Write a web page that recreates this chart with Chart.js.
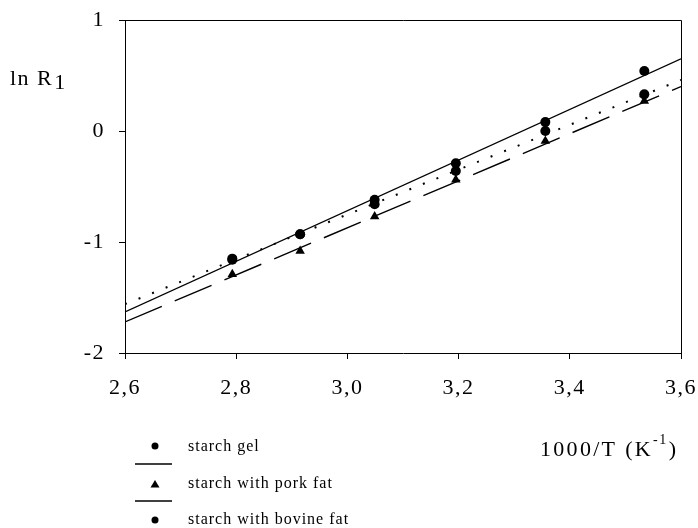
<!DOCTYPE html>
<html><head><meta charset="utf-8">
<script src="https://cdn.jsdelivr.net/npm/chart.js@4.4.0/dist/chart.umd.min.js"></script>
<style>html,body{margin:0;padding:0;background:#fff;} #wrap{width:698px;height:528px;position:relative;}</style>
</head><body><div id="wrap"><canvas id="c" width="698" height="528"></canvas></div>
<script>
const xValues = [2.793, 2.915, 3.049, 3.195, 3.356, 3.534];
const starchGel = [-1.16, -0.93, -0.62, -0.29, 0.08, 0.54];
const porkFat = [-1.29, -1.08, -0.77, -0.44, -0.09, 0.27];
const bovineFat = [-1.15, -0.93, -0.66, -0.36, 0.00, 0.33];
const fitX = [2.6, 3.6];
const gelFit = [-1.63, 0.65];
const porkFit = [-1.72, 0.40];
const bovineFit = [-1.56, 0.46];
const xTicks = [2.6, 2.8, 3.0, 3.2, 3.4, 3.6];
const xTickLabels = ['2,6', '2,8', '3,0', '3,2', '3,4', '3,6'];
const yTicks = [-2, -1, 0, 1];
const yTickLabels = ['-2', '-1', '0', '1'];
const legendLabels = ['starch gel', 'starch with pork fat', 'starch with bovine fat'];
const yTitle = 'ln R';
const yTitleSub = '1';
const xTitle = '1000/T (K';
const xTitleSup = '-1';

const FONT = '"Liberation Serif", "Times New Roman", serif';
const pts = (xs, ys) => xs.map((x, i) => ({x: x, y: ys[i]}));

const framePlugin = {
  id: 'frame',
  beforeDraw(chart) {
    chart.ctx.letterSpacing = '1.5px';
  },
  afterDraw(chart) {
    const ctx = chart.ctx, a = chart.chartArea;
    ctx.save();
    ctx.letterSpacing = '0px';
    ctx.strokeStyle = '#000';
    ctx.lineWidth = 1;
    ctx.beginPath();
    ctx.moveTo(a.left, a.top + 0.5);
    ctx.lineTo(a.right + 0.5, a.top + 0.5);
    ctx.lineTo(a.right + 0.5, a.bottom);
    ctx.stroke();

    // axis titles
    ctx.fillStyle = '#000';
    ctx.textBaseline = 'alphabetic';
    ctx.textAlign = 'left';
    ctx.font = '22px ' + FONT;
    ctx.letterSpacing = '1.5px';
    ctx.fillText(yTitle, 10, 85);
    let w = ctx.measureText(yTitle).width;
    ctx.fillText(yTitleSub, 10 + w + 1, 89);

    ctx.letterSpacing = '2.3px';
    ctx.fillText(xTitle, 540, 456);
    w = ctx.measureText(xTitle).width;
    ctx.font = '14px ' + FONT;
    ctx.letterSpacing = '1.5px';
    ctx.fillText(xTitleSup, 540 + w, 444);
    const w2 = ctx.measureText(xTitleSup).width;
    ctx.font = '22px ' + FONT;
    ctx.letterSpacing = '2px';
    ctx.fillText(')', 540 + w + w2 + 1, 456);

    // legend
    ctx.font = '16px ' + FONT;
    ctx.letterSpacing = '1px';
    const mx = 155, tx = 188;
    ctx.beginPath(); ctx.arc(mx, 446, 3.5, 0, Math.PI * 2); ctx.fill();
    ctx.fillText(legendLabels[0], tx, 451);
    ctx.lineWidth = 1.4;
    ctx.beginPath(); ctx.moveTo(135, 464); ctx.lineTo(172, 464); ctx.stroke();
    ctx.beginPath(); ctx.moveTo(mx, 480); ctx.lineTo(mx + 4.5, 487.5); ctx.lineTo(mx - 4.5, 487.5); ctx.closePath(); ctx.fill();
    ctx.fillText(legendLabels[1], tx, 488);
    ctx.beginPath(); ctx.moveTo(135, 501); ctx.lineTo(172, 501); ctx.stroke();
    ctx.beginPath(); ctx.arc(mx, 520, 3.5, 0, Math.PI * 2); ctx.fill();
    ctx.fillText(legendLabels[2], tx, 524);
    ctx.restore();
  }
};

const zeroPad = s => { s.paddingTop = 0; s.paddingBottom = 0; s.paddingLeft = 0; s.paddingRight = 0; };

new Chart(document.getElementById('c'), {
  type: 'scatter',
  data: {
    datasets: [
      {label: legendLabels[0], data: pts(xValues, starchGel), pointStyle: 'circle', pointRadius: 5, backgroundColor: '#000', borderColor: '#000', borderWidth: 0},
      {label: legendLabels[2], data: pts(xValues, bovineFat), pointStyle: 'circle', pointRadius: 5, backgroundColor: '#000', borderColor: '#000', borderWidth: 0},
      {label: legendLabels[1], data: pts(xValues, porkFat), pointStyle: 'triangle', pointRadius: 5.5, backgroundColor: '#000', borderColor: '#000', borderWidth: 0},
      {label: 'fit gel', data: pts(fitX, gelFit), showLine: true, pointRadius: 0, borderColor: '#000', borderWidth: 1.4, fill: false},
      {label: 'fit pork', data: pts(fitX, porkFit), showLine: true, pointRadius: 0, borderColor: '#000', borderWidth: 1.4, borderDash: [40, 14], fill: false},
      {label: 'fit bovine', data: pts(fitX, bovineFit), showLine: true, pointRadius: 0, borderColor: '#000', borderWidth: 2, borderDash: [2, 12.6], fill: false}
    ]
  },
  options: {
    responsive: false,
    animation: false,
    devicePixelRatio: 1,
    layout: {padding: {top: 20, right: 17, left: 0, bottom: 0}},
    plugins: {legend: {display: false}, tooltip: {enabled: false}},
    scales: {
      x: {
        type: 'linear', min: 2.6, max: 3.6,
        afterBuildTicks: s => { s.ticks = xTicks.map(v => ({value: v})); },
        afterFit: s => { s.height = 175; zeroPad(s); },
        ticks: {color: '#000', font: {family: FONT, size: 22}, padding: 16, autoSkip: false, maxRotation: 0,
          callback: (v, i) => xTickLabels[i]},
        grid: {drawOnChartArea: false, drawTicks: true, tickLength: 6, color: '#000', lineWidth: 1},
        border: {display: true, color: '#000', width: 1}
      },
      y: {
        type: 'linear', min: -2, max: 1,
        afterBuildTicks: s => { s.ticks = yTicks.map(v => ({value: v})); },
        afterFit: s => { s.width = 125; zeroPad(s); },
        ticks: {color: '#000', font: {family: FONT, size: 22}, padding: 14, autoSkip: false,
          callback: (v, i) => yTickLabels[i]},
        grid: {drawOnChartArea: false, drawTicks: true, tickLength: 6, color: '#000', lineWidth: 1},
        border: {display: true, color: '#000', width: 1}
      }
    }
  },
  plugins: [framePlugin]
});
</script>
</body></html>
